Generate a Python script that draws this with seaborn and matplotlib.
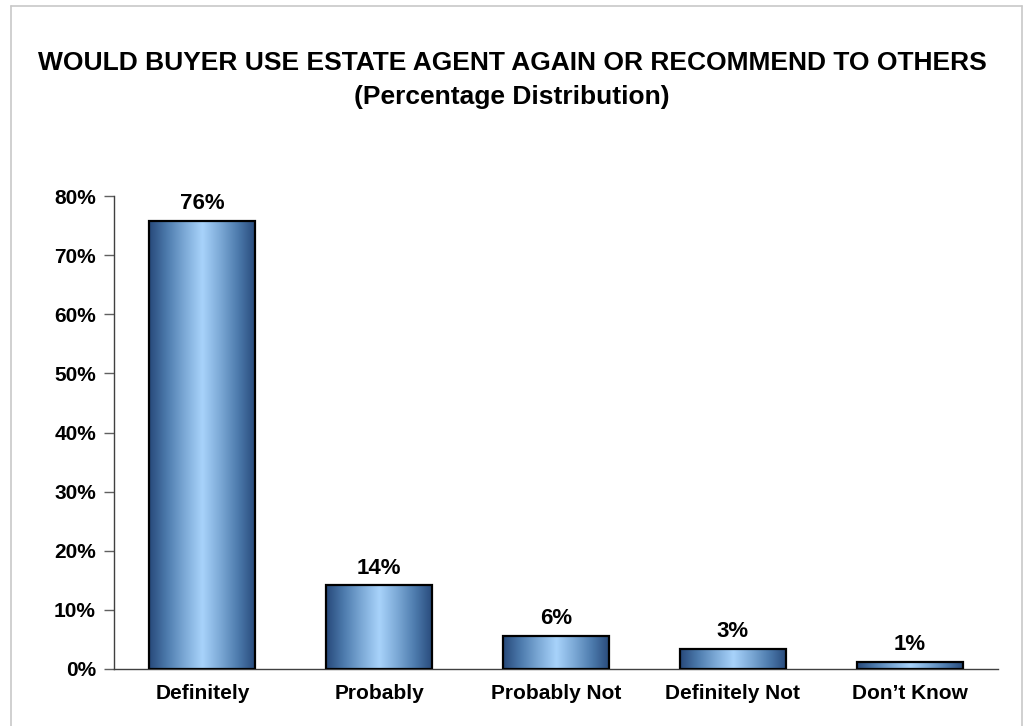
import numpy as np
import seaborn as sns
import matplotlib.pyplot as plt
from matplotlib.colors import LinearSegmentedColormap
from matplotlib.lines import Line2D

# Chart data
categories = ['Definitely', 'Probably', 'Probably Not', 'Definitely Not', "Don\u2019t Know"]
values = [0.758, 0.142, 0.056, 0.034, 0.012]
labels = ['76%', '14%', '6%', '3%', '1%']
y_ticks = [0.0, 0.1, 0.2, 0.3, 0.4, 0.5, 0.6, 0.7, 0.8]

sns.set_style('white')
plt.rcParams['font.family'] = ['Liberation Sans', 'DejaVu Sans']
plt.rcParams['font.weight'] = 'bold'
plt.rcParams['text.color'] = 'black'
plt.rcParams['xtick.color'] = 'black'
plt.rcParams['ytick.color'] = 'black'

fig = plt.figure(figsize=(10.24, 7.26), dpi=100)
ax = fig.add_axes([114 / 1024, 1 - 669 / 726, (998 - 114) / 1024, (669 - 196) / 726])

sns.barplot(x=categories, y=values, color='#5b88b8', edgecolor='black',
            linewidth=1.6, width=0.6, ax=ax, zorder=3)

# horizontal gradient fill: dark at the sides, light in the middle
grad_cmap = LinearSegmentedColormap.from_list(
    'bar_grad', ['#27497a', '#4d7bad', '#7ca9d6', '#a8d3fb', '#7ca9d6', '#4d7bad', '#27497a'])
grad = np.linspace(0, 1, 256).reshape(1, -1)
for patch in ax.patches:
    x0, y0 = patch.get_x(), patch.get_y()
    w, h = patch.get_width(), patch.get_height()
    img = ax.imshow(grad, cmap=grad_cmap, aspect='auto', extent=[x0, x0 + w, y0, y0 + h],
                    zorder=2, interpolation='bicubic')
    img.set_clip_path(patch)
    patch.set_facecolor('none')

for i, (v, lab) in enumerate(zip(values, labels)):
    ax.text(i, v + 0.011, lab, ha='center', va='bottom', fontsize=16, fontweight='bold')

ax.set_xlim(-0.5, len(categories) - 0.5)
ax.set_ylim(0, 0.8)
ax.set_yticks(y_ticks)
ax.set_yticklabels([f'{int(round(t * 100))}%' for t in y_ticks], fontsize=15, fontweight='bold')
ax.set_xticks(range(len(categories)))
ax.set_xticklabels(categories, fontsize=15, fontweight='bold')
ax.set_xticks(np.arange(-0.5, len(categories)), minor=True)
ax.tick_params(axis='x', which='major', length=0, pad=11)
ax.tick_params(axis='x', which='minor', length=8, width=1, color='#404040', direction='out')
ax.tick_params(axis='y', length=7, width=1, color='#606060', direction='out', pad=6, left=True)

for side in ['top', 'right']:
    ax.spines[side].set_visible(False)
for side in ['left', 'bottom']:
    ax.spines[side].set_color('#404040')
    ax.spines[side].set_linewidth(1)
ax.set_xlabel('')
ax.set_ylabel('')

fig.text(0.5, 1 - 63 / 726, 'WOULD BUYER USE ESTATE AGENT AGAIN OR RECOMMEND TO OTHERS',
         ha='center', va='center', fontsize=19, fontweight='bold')
fig.text(0.5, 1 - 97 / 726, '(Percentage Distribution)',
         ha='center', va='center', fontsize=19, fontweight='bold')

# light grey frame around the chart area
bx0, bx1, by1 = 10.5 / 1024, 1021.5 / 1024, 1 - 5.5 / 726
for xs, ys in [([bx0, bx0], [0, by1]), ([bx0, bx1], [by1, by1]), ([bx1, bx1], [by1, 0])]:
    fig.add_artist(Line2D(xs, ys, color='#c8c8c8', linewidth=1.2, transform=fig.transFigure))

fig.savefig('out.png', dpi=100)
plt.close(fig)
